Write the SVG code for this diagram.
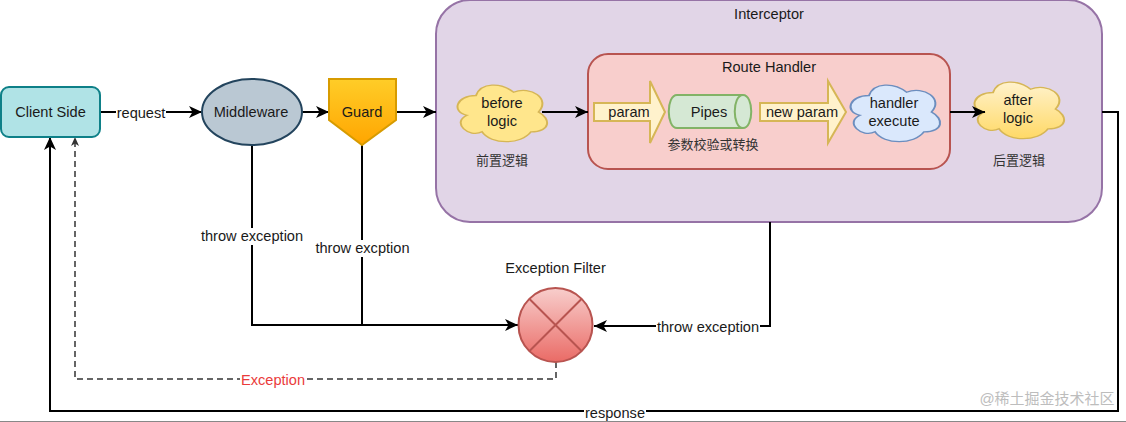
<svg xmlns="http://www.w3.org/2000/svg" width="1126" height="422" viewBox="0 0 1126 422">
<style>
text{font-family:"Liberation Sans","Noto Sans CJK SC",sans-serif;font-size:14.600px;fill:#1a1a1a;text-anchor:middle}
.cjk{font-size:13px;fill:#333}
.wire{fill:none;stroke:#000;stroke-width:2}
.lb{fill:#fff}
</style>
<defs>
<marker id="arr" markerUnits="userSpaceOnUse" markerWidth="14" markerHeight="14" refX="13" refY="7" orient="auto"><path d="M0 1L13 7L0 13L3.500 7Z" fill="#000"/></marker>
<marker id="arrs" markerUnits="userSpaceOnUse" markerWidth="10" markerHeight="10" refX="9" refY="5" orient="auto"><path d="M0 1L9 5L0 9L2.500 5Z" fill="#333"/></marker>
<linearGradient id="gGuard" x1="0" y1="0" x2="0" y2="1"><stop offset="0" stop-color="#ffcd28"/><stop offset="1" stop-color="#ffa500"/></linearGradient>
<linearGradient id="gAfter" x1="0" y1="0" x2="0" y2="1"><stop offset="0" stop-color="#fff2cc"/><stop offset="1" stop-color="#ffd966"/></linearGradient>
<linearGradient id="gX" x1="0" y1="0" x2="0" y2="1"><stop offset="0" stop-color="#f8cecc"/><stop offset="1" stop-color="#ea6b66"/></linearGradient>
<path id="cloud" d="M25 25C5 25 0 50 16 55C0 66 18 90 31 80C40 100 70 100 80 80C100 80 100 60 87.500 50C100 30 80 10 62.500 20C50 5 30 5 25 25Z"/>
</defs>
<rect width="1126" height="422" fill="#fff"/>

<g id="interceptor"><rect x="436" y="0" width="666" height="222" rx="34" fill="#e1d5e7" stroke="#9673a6" stroke-width="2"/><text x="769" y="19">Interceptor</text></g>
<g id="route-handler"><rect x="588" y="54" width="362" height="115" rx="20" fill="#f8cecc" stroke="#b85450" stroke-width="2"/><text x="769" y="72">Route Handler</text></g>

<g id="connectors">
<path class="wire" d="M100 112H202" marker-end="url(#arr)"/>
<path class="wire" d="M302 112H329" marker-end="url(#arr)"/>
<path class="wire" d="M396 112H436" marker-end="url(#arr)"/>
<path class="wire" d="M542 112H588" marker-end="url(#arr)"/>
<path class="wire" d="M1102 112H1118V411H50V137" marker-end="url(#arr)"/>
<path class="wire" d="M252 145V325H518" marker-end="url(#arr)"/>
<path class="wire" d="M362 145V325"/>
<path class="wire" d="M770 222V326H594" marker-end="url(#arr)"/>
<path d="M556 362V379H75V137" fill="none" stroke="#333" stroke-width="1.500" stroke-dasharray="6 4" marker-end="url(#arrs)"/>
<rect class="lb" x="116" y="104" width="50" height="17"/><text x="141" y="118">request</text>
<rect class="lb" x="200" y="228" width="104" height="17"/><text x="252" y="241">throw exception</text>
<rect class="lb" x="315" y="240" width="95" height="17"/><text x="362.500" y="253">throw excption</text>
<rect class="lb" x="656" y="319" width="104" height="17"/><text x="708" y="332">throw exception</text>
<rect class="lb" x="240" y="371" width="66" height="17"/><text x="273" y="385" style="fill:#ea3b3b">Exception</text>
<rect class="lb" x="584" y="405" width="62" height="16"/><text x="615" y="418">response</text>
</g>

<g id="client-side"><rect x="1" y="87" width="99" height="50" rx="8" fill="#b0e3e6" stroke="#0e8088" stroke-width="2"/><text x="50.500" y="117">Client Side</text></g>
<g id="middleware"><ellipse cx="252" cy="112" rx="50" ry="33" fill="#bac8d3" stroke="#23445d" stroke-width="2"/><text x="251" y="117">Middleware</text></g>
<g id="guard"><path d="M329 79H396V120L362 145L329 120Z" fill="url(#gGuard)" stroke="#d79b00" stroke-width="2"/><text x="362" y="117">Guard</text></g>

<g id="before-logic"><use href="#cloud" transform="translate(451 79) scale(1 .66)" fill="#ffe68c" stroke="#d6b656" stroke-width="2"/><text x="502" y="108">before</text><text x="502" y="126">logic</text><text class="cjk" x="502" y="165">前置逻辑</text></g>
<g id="param"><path d="M594 103H650V81L665 112L650 143V121H594Z" fill="#fff2cc" stroke="#d6b656" stroke-width="2"/><text x="629" y="117">param</text></g>
<g id="pipes"><path d="M677 95H743C754 95 754 128 743 128H677C666 128 666 95 677 95Z" fill="#d5e8d4" stroke="#82b366" stroke-width="2"/><path d="M743 95C732 95 732 128 743 128" fill="none" stroke="#82b366" stroke-width="2"/><text x="709" y="117">Pipes</text><text class="cjk" x="713" y="149">参数校验或转换</text></g>
<g id="new-param"><path d="M760 103H828V81L846 112L828 143V121H760Z" fill="#fff2cc" stroke="#d6b656" stroke-width="2"/><text x="802" y="117">new param</text></g>
<g id="handler-execute"><use href="#cloud" transform="translate(844 79) scale(1 .66)" fill="#dae8fc" stroke="#6c8ebf" stroke-width="2"/><text x="894" y="108">handler</text><text x="894" y="126">execute</text></g>
<g id="after-logic"><use href="#cloud" transform="translate(968 76) scale(1 .66)" fill="url(#gAfter)" stroke="#d6b656" stroke-width="2"/><text x="1018" y="105">after</text><text x="1018" y="123">logic</text><text class="cjk" x="1019" y="165">后置逻辑</text></g>
<g id="connector-after"><path class="wire" d="M950 112H985" marker-end="url(#arr)"/></g>

<g id="exception-filter"><circle cx="555.500" cy="325" r="37" fill="url(#gX)" stroke="#b85450" stroke-width="2"/><path d="M529.500 299L581.500 351M581.500 299L529.500 351" stroke="#b85450" stroke-width="2" fill="none"/><text x="555.500" y="273">Exception Filter</text></g>

<line x1="0" y1="421.500" x2="1126" y2="421.500" stroke="#888" stroke-width="1"/>
<text x="1047" y="404" style="font-size:15px;fill:#bdbdbd">@稀土掘金技术社区</text>
</svg>
